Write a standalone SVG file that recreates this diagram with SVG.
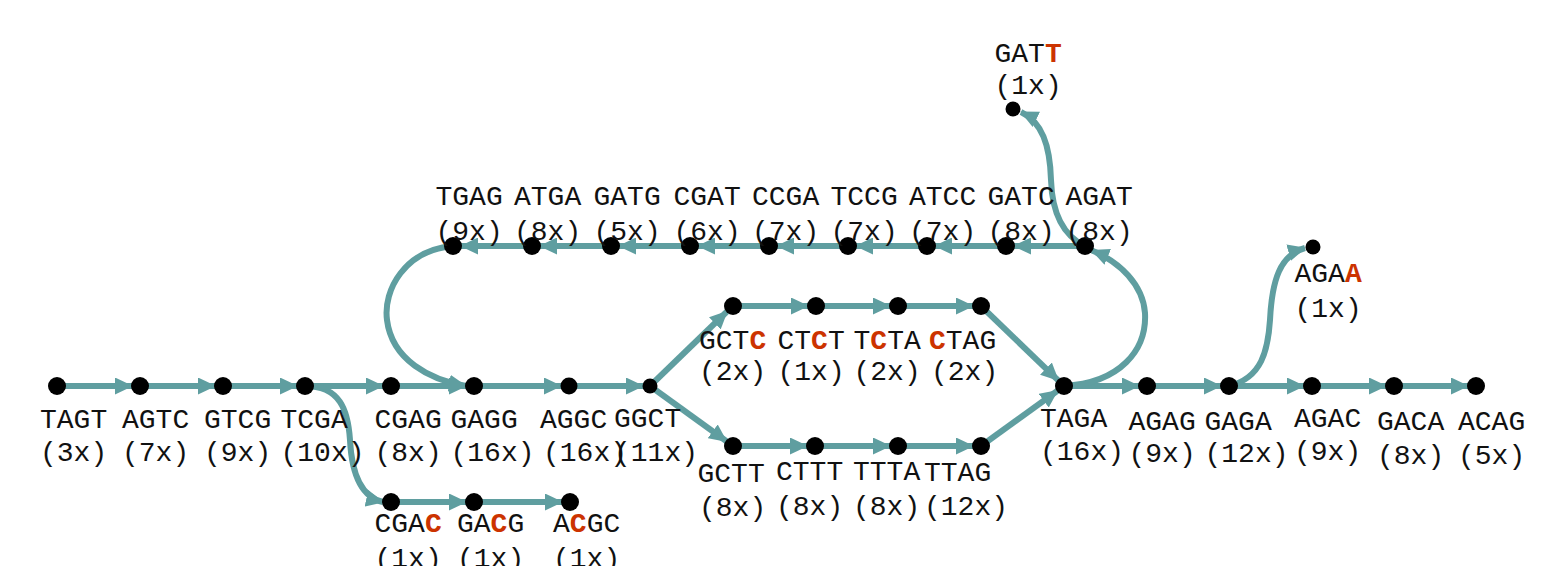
<svg xmlns="http://www.w3.org/2000/svg" width="1542" height="566" viewBox="0 0 1542 566">
<style>
.e{fill:none;stroke:#5f9ea0;stroke-width:6;marker-end:url(#ah)}
.n{fill:#000}
.t{font-family:"Liberation Mono","DejaVu Sans Mono",monospace;font-size:28px;fill:#111}
.r{fill:#cc3300;font-weight:bold}
</style>
<defs>
<marker id="ah" markerUnits="userSpaceOnUse" viewBox="0 0 18 17" refX="17" refY="8.5" markerWidth="18" markerHeight="17" orient="auto">
<path d="M0,0 L18,8.5 L0,17 z" fill="#5f9ea0"/>
</marker>
</defs>
<rect width="1542" height="566" fill="#fff"/>
<g id="connectors">
<path class="e" d="M57,386 H132"/>
<path class="e" d="M140,386 H215"/>
<path class="e" d="M223,386 H297"/>
<path class="e" d="M305,386 H383"/>
<path class="e" d="M391,386 H466"/>
<path class="e" d="M474,386 H561"/>
<path class="e" d="M569,386 H643"/>
<path class="e" d="M305,386 C340,386 348,410 350,440 C352,480 365,498 383,502"/>
<path class="e" d="M391,502 H466"/>
<path class="e" d="M474,502 H562"/>
<path class="e" d="M650,386 L727,311.5"/>
<path class="e" d="M650,386 L726.5,441.3"/>
<path class="e" d="M733,306 H808"/>
<path class="e" d="M816,306 H890"/>
<path class="e" d="M898,306 H973"/>
<path class="e" d="M981,306 L1058.2,380.4"/>
<path class="e" d="M733,446 H807"/>
<path class="e" d="M815,446 H890"/>
<path class="e" d="M898,446 H973"/>
<path class="e" d="M981,446 L1057.5,390.7"/>
<path class="e" d="M1064,386 H1139"/>
<path class="e" d="M1147,386 H1221"/>
<path class="e" d="M1229,386 H1304"/>
<path class="e" d="M1312,386 H1386"/>
<path class="e" d="M1394,386 H1468"/>
<path class="e" d="M1229,386 C1262,378 1268,350 1270,320 C1272,280 1280,255 1305,248"/>
<path class="e" d="M1064,386 C1120,383 1147,350 1145,313 C1143,285 1120,262 1092,250.5"/>
<path class="e" d="M1085,246 H1014"/>
<path class="e" d="M1006,246 H935"/>
<path class="e" d="M927,246 H856"/>
<path class="e" d="M848,246 H777"/>
<path class="e" d="M769,246 H698"/>
<path class="e" d="M690,246 H619"/>
<path class="e" d="M611,246 H540"/>
<path class="e" d="M532,246 H461"/>
<path class="e" d="M453,246 C405,250 383,290 387,320 C392,360 430,380 466,386"/>
<path class="e" d="M1085,246 C1062,235 1052,210 1051,180 C1050,145 1042,122 1021,112"/>
</g>
<g id="n-TAGT"><circle class="n" cx="57" cy="386" r="9"/><text class="t" x="40" y="428">TAGT</text><text class="t" x="40" y="461">(3x)</text></g>
<g id="n-AGTC"><circle class="n" cx="140" cy="386" r="9"/><text class="t" x="122" y="428">AGTC</text><text class="t" x="122" y="461">(7x)</text></g>
<g id="n-GTCG"><circle class="n" cx="223" cy="386" r="9"/><text class="t" x="204" y="428">GTCG</text><text class="t" x="204" y="461">(9x)</text></g>
<g id="n-TCGA"><circle class="n" cx="305" cy="386" r="9"/><text class="t" x="280.5" y="428">TCGA</text><text class="t" x="280.5" y="461">(10x)</text></g>
<g id="n-CGAG"><circle class="n" cx="391" cy="386" r="9"/><text class="t" x="374.5" y="428">CGAG</text><text class="t" x="374.5" y="461">(8x)</text></g>
<g id="n-GAGG"><circle class="n" cx="474" cy="386" r="9"/><text class="t" x="450.5" y="428">GAGG</text><text class="t" x="450.5" y="461">(16x)</text></g>
<g id="n-AGGC"><circle class="n" cx="569" cy="386" r="8.5"/><text class="t" x="540" y="428">AGGC</text><text class="t" x="543" y="461">(16x)</text></g>
<g id="n-GGCT"><circle class="n" cx="650" cy="386" r="7.5"/><text class="t" x="614" y="427">GGCT</text><text class="t" x="614" y="461">(11x)</text></g>
<g id="n-CGAC"><circle class="n" cx="391" cy="502" r="9"/><text class="t" x="374.5" y="532">CGA<tspan class="r">C</tspan></text><text class="t" x="374.5" y="567">(1x)</text></g>
<g id="n-GACG"><circle class="n" cx="474" cy="502" r="9"/><text class="t" x="457" y="532">GA<tspan class="r">C</tspan>G</text><text class="t" x="457" y="567">(1x)</text></g>
<g id="n-ACGC"><circle class="n" cx="570" cy="502" r="9"/><text class="t" x="553" y="532">A<tspan class="r">C</tspan>GC</text><text class="t" x="553" y="567">(1x)</text></g>
<g id="n-GCTC"><circle class="n" cx="733" cy="306" r="9"/><text class="t" x="699" y="349">GCT<tspan class="r">C</tspan></text><text class="t" x="699" y="380">(2x)</text></g>
<g id="n-CTCT"><circle class="n" cx="816" cy="306" r="9"/><text class="t" x="777.5" y="349">CT<tspan class="r">C</tspan>T</text><text class="t" x="777.5" y="380">(1x)</text></g>
<g id="n-TCTA"><circle class="n" cx="898" cy="306" r="9"/><text class="t" x="853.5" y="349">T<tspan class="r">C</tspan>TA</text><text class="t" x="853.5" y="380">(2x)</text></g>
<g id="n-CTAG"><circle class="n" cx="981" cy="306" r="9"/><text class="t" x="929" y="349"><tspan class="r">C</tspan>TAG</text><text class="t" x="931" y="380">(2x)</text></g>
<g id="n-GCTT"><circle class="n" cx="733" cy="446" r="9"/><text class="t" x="697.5" y="482">GCTT</text><text class="t" x="699" y="516">(8x)</text></g>
<g id="n-CTTT"><circle class="n" cx="815" cy="446" r="9"/><text class="t" x="776" y="480">CTTT</text><text class="t" x="776" y="515">(8x)</text></g>
<g id="n-TTTA"><circle class="n" cx="898" cy="446" r="9"/><text class="t" x="853" y="480">TTTA</text><text class="t" x="853" y="515">(8x)</text></g>
<g id="n-TTAG"><circle class="n" cx="981" cy="446" r="9"/><text class="t" x="924" y="481">TTAG</text><text class="t" x="924" y="515">(12x)</text></g>
<g id="n-TAGA"><circle class="n" cx="1064" cy="386" r="9"/><text class="t" x="1040" y="427">TAGA</text><text class="t" x="1040" y="460">(16x)</text></g>
<g id="n-AGAG"><circle class="n" cx="1147" cy="386" r="9"/><text class="t" x="1128.5" y="430">AGAG</text><text class="t" x="1128.5" y="462">(9x)</text></g>
<g id="n-GAGA"><circle class="n" cx="1229" cy="386" r="9"/><text class="t" x="1204.5" y="430">GAGA</text><text class="t" x="1204.5" y="462">(12x)</text></g>
<g id="n-AGAC"><circle class="n" cx="1312" cy="386" r="9"/><text class="t" x="1294" y="427">AGAC</text><text class="t" x="1294" y="460">(9x)</text></g>
<g id="n-GACA"><circle class="n" cx="1394" cy="386" r="9"/><text class="t" x="1377" y="430">GACA</text><text class="t" x="1377" y="464">(8x)</text></g>
<g id="n-ACAG"><circle class="n" cx="1476" cy="386" r="9"/><text class="t" x="1458" y="430">ACAG</text><text class="t" x="1458" y="464">(5x)</text></g>
<g id="n-AGAA"><circle class="n" cx="1313" cy="247" r="7.5"/><text class="t" x="1294.5" y="282">AGA<tspan class="r">A</tspan></text><text class="t" x="1294.5" y="317">(1x)</text></g>
<g id="n-TGAG"><circle class="n" cx="453" cy="246" r="9"/><text class="t" x="435.5" y="205">TGAG</text><text class="t" x="435.5" y="240">(9x)</text></g>
<g id="n-ATGA"><circle class="n" cx="532" cy="246" r="9"/><text class="t" x="514" y="205">ATGA</text><text class="t" x="514" y="240">(8x)</text></g>
<g id="n-GATG"><circle class="n" cx="611" cy="246" r="9"/><text class="t" x="593.5" y="205">GATG</text><text class="t" x="593.5" y="240">(5x)</text></g>
<g id="n-CGAT"><circle class="n" cx="690" cy="246" r="9"/><text class="t" x="673.5" y="205">CGAT</text><text class="t" x="673.5" y="240">(6x)</text></g>
<g id="n-CCGA"><circle class="n" cx="769" cy="246" r="9"/><text class="t" x="752" y="205">CCGA</text><text class="t" x="752" y="240">(7x)</text></g>
<g id="n-TCCG"><circle class="n" cx="848" cy="246" r="9"/><text class="t" x="830.5" y="205">TCCG</text><text class="t" x="830.5" y="240">(7x)</text></g>
<g id="n-ATCC"><circle class="n" cx="927" cy="246" r="9"/><text class="t" x="909" y="205">ATCC</text><text class="t" x="909" y="240">(7x)</text></g>
<g id="n-GATC"><circle class="n" cx="1006" cy="246" r="9"/><text class="t" x="987.5" y="205">GATC</text><text class="t" x="987.5" y="240">(8x)</text></g>
<g id="n-AGAT"><circle class="n" cx="1085" cy="246" r="9"/><text class="t" x="1065.5" y="205">AGAT</text><text class="t" x="1065.5" y="240">(8x)</text></g>
<g id="n-GATT"><circle class="n" cx="1013" cy="109" r="7.5"/><text class="t" x="994.5" y="62">GAT<tspan class="r">T</tspan></text><text class="t" x="994.5" y="94">(1x)</text></g>
</svg>
